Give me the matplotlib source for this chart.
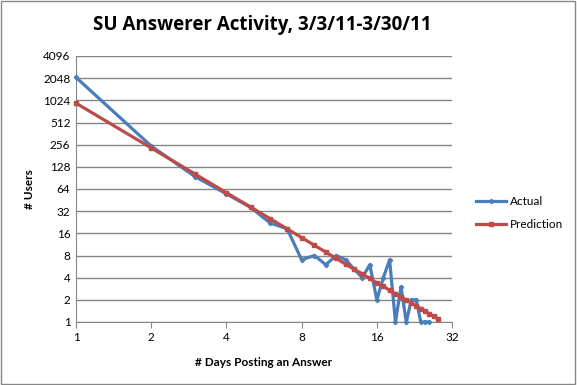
import matplotlib
matplotlib.use("Agg")
import matplotlib.pyplot as plt
from matplotlib.patches import Rectangle

# days posting an answer
days_actual = list(range(1, 27))
users_actual = [2100, 245, 94, 55, 36, 22, 18.5, 7, 8, 6, 8, 7, 5.2, 4, 6, 2,
                4, 7, 1, 3, 1, 2, 2, 1, 1, 1]

days_pred = list(range(1, 29))
users_pred = [937, 231, 102, 57, 36.4, 25.2, 18.4, 14.0, 11.0, 8.9, 7.3, 6.1,
              5.2, 4.5, 3.9, 3.4, 3.05, 2.7, 2.43, 2.19, 1.99, 1.81, 1.65,
              1.52, 1.40, 1.29, 1.20, 1.11]

x_ticks = [1, 2, 4, 8, 16, 32]
y_ticks = [1, 2, 4, 8, 16, 32, 64, 128, 256, 512, 1024, 2048, 4096]

plt.rcParams['font.family'] = ['Lato', 'DejaVu Sans']

fig = plt.figure(figsize=(5.77, 3.85), dpi=100)
ax = fig.add_axes([76 / 577, 1 - 322 / 385, (452 - 76) / 577, (322 - 56) / 385])

ax.plot(days_actual, users_actual, color='#4A7EBB', lw=2.3, marker='D',
        ms=2.2, label='Actual', clip_on=False, zorder=3)
ax.plot(days_pred, users_pred, color='#BE4B48', lw=2.3, marker='s',
        ms=2.2, label='Prediction', clip_on=False, zorder=4)

ax.set_xscale('log', base=2)
ax.set_yscale('log', base=2)
ax.set_xlim(1, 32)
ax.set_ylim(1, 4096)
ax.set_xticks(x_ticks)
ax.set_xticklabels([str(t) for t in x_ticks])
ax.set_yticks(y_ticks)
ax.set_yticklabels([str(t) for t in y_ticks])
ax.minorticks_off()
ax.tick_params(labelsize=8.5, length=4, color='#868686')
ax.tick_params(axis='y', length=0, pad=4)

ax.grid(axis='y', color='#868686', lw=1)
ax.set_axisbelow(True)
for s in ['top', 'right']:
    ax.spines[s].set_visible(False)
for s in ['left', 'bottom']:
    ax.spines[s].set_color('#868686')

ax.set_xlabel('# Days Posting an Answer', fontsize=8.5, fontweight='bold', labelpad=10)
ax.set_ylabel('# Users', fontsize=8.5, fontweight='bold', labelpad=6)
fig.suptitle('SU Answerer Activity, 3/3/11-3/30/11', fontsize=13.5,
             fontweight='bold', family=['Open Sans', 'DejaVu Sans'],
             x=0.455, y=0.96)

ax.legend(loc='center left', bbox_to_anchor=(1.035, 0.41), frameon=False,
          fontsize=8.5, handlelength=2.6, handletextpad=0.3, labelspacing=1.0)

fig.patches.append(Rectangle((0.002, 0.003), 0.995, 0.994, transform=fig.transFigure,
                             fill=False, edgecolor='#868686', lw=1))

fig.savefig('out.png', dpi=100)
